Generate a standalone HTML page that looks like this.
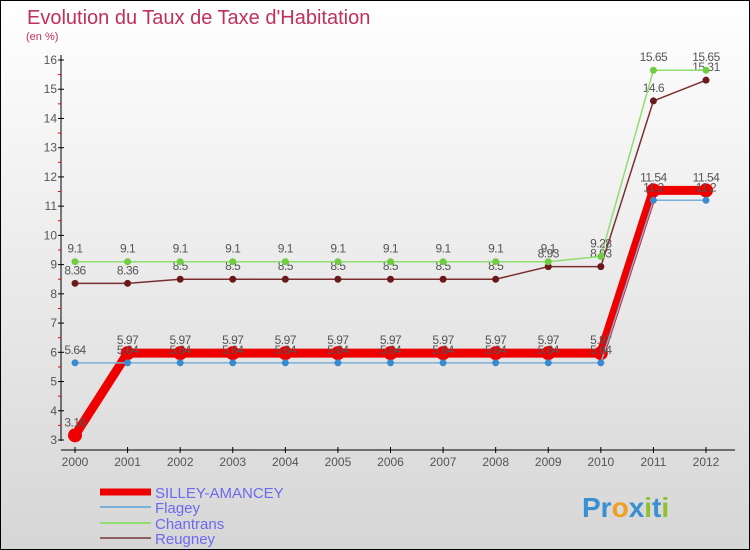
<!DOCTYPE html>
<html><head><meta charset="utf-8"><style>
body{margin:0;width:750px;height:550px;overflow:hidden;font-family:"Liberation Sans",sans-serif}
#c{position:absolute;left:0;top:0;width:748px;height:548px;border:1px solid #000;background:linear-gradient(#fff,#d6d6d6)}
</style></head><body>
<div id="c">
<svg id="s" width="750" height="550" style="position:absolute;left:-1px;top:-1px">
<text x="27" y="24" font-size="20" fill="#c0305a">Evolution du Taux de Taxe d'Habitation</text>
<text x="26" y="40" font-size="11" fill="#c0305a">(en %)</text>
<g id="axes"></g><g id="series"></g>
<g>
<line x1="100" y1="492" x2="151" y2="492" stroke="#e00" stroke-width="7"/>
<text x="155" y="498" font-size="15" fill="#6a6af0">SILLEY-AMANCEY</text>
<line x1="100" y1="507" x2="151" y2="507" stroke="#7ab0d8" stroke-width="2"/>
<text x="155" y="513" font-size="15" fill="#6a6af0">Flagey</text>
<line x1="100" y1="523" x2="151" y2="523" stroke="#90dd70" stroke-width="2"/>
<text x="155" y="529" font-size="15" fill="#6a6af0">Chantrans</text>
<line x1="100" y1="538" x2="151" y2="538" stroke="#906060" stroke-width="2"/>
<text x="155" y="544" font-size="15" fill="#6a6af0">Reugney</text>
</g>
<text x="582" y="517" font-size="28" font-weight="bold"><tspan fill="#3a8fd0">Pr</tspan><tspan fill="#f0a020">o</tspan><tspan fill="#3a8fd0">x</tspan><tspan fill="#90c030">i</tspan><tspan fill="#3a8fd0">t</tspan><tspan fill="#90c030">i</tspan></text>
</svg></div>
<script>
const years=[2000,2001,2002,2003,2004,2005,2006,2007,2008,2009,2010,2011,2012];
const silley=[3.16,5.97,5.97,5.97,5.97,5.97,5.97,5.97,5.97,5.97,5.97,11.54,11.54];
const flagey=[5.64,5.64,5.64,5.64,5.64,5.64,5.64,5.64,5.64,5.64,5.64,11.2,11.2];
const chantrans=[9.1,9.1,9.1,9.1,9.1,9.1,9.1,9.1,9.1,9.1,9.28,15.65,15.65];
const reugney=[8.36,8.36,8.5,8.5,8.5,8.5,8.5,8.5,8.5,8.93,8.93,14.6,15.31];
const yTicks=[3,4,5,6,7,8,9,10,11,12,13,14,15,16];
const NS="http://www.w3.org/2000/svg";
const X=i=>75+i*(706-75)/(years.length-1);
const Y=v=>440-(v-3)*(380/13);
function mk(p,t,a){const e=document.createElementNS(NS,t);for(const k in a)e.setAttribute(k,a[k]);p.appendChild(e);return e;}
const ax=document.getElementById('axes');
mk(ax,'line',{x1:61,y1:55,x2:61,y2:441,stroke:'#000'});
mk(ax,'line',{x1:61,y1:450,x2:735,y2:450,stroke:'#000'});
yTicks.forEach(v=>{const y=Y(v);
mk(ax,'line',{x1:58,y1:y,x2:64,y2:y,stroke:'#000'});
if(v<16)mk(ax,'line',{x1:58,y1:Y(v+0.5),x2:61,y2:Y(v+0.5),stroke:'#e00'});
const t=mk(ax,'text',{x:57,y:y+4,'font-size':12,fill:'#555','text-anchor':'end'});t.textContent=v;

});
years.forEach((yr,i)=>{const x=X(i);
mk(ax,'line',{x1:x,y1:447,x2:x,y2:453,stroke:'#000'});
const t=mk(ax,'text',{x:x,y:466,'font-size':12,fill:'#555','text-anchor':'middle'});t.textContent=yr;

});
const sg=document.getElementById('series');
function draw(vals,name,col,w,r,fill){
const g=mk(sg,'g',{});


mk(g,'polyline',{points:vals.map((v,i)=>X(i)+','+Y(v)).join(' '),fill:'none',stroke:col,'stroke-width':w});
vals.forEach((v,i)=>{const c=mk(g,'circle',{cx:X(i),cy:Y(v),r:r,fill:fill});


const t=mk(g,'text',{x:X(i),y:Y(v)-9,'font-size':12,fill:'#555','text-anchor':'middle','letter-spacing':'-0.5'});t.textContent=v;

});}
draw(reugney,'reugney','#7a3030',1.5,3.5,'#6a1a1a');
draw(chantrans,'chantrans','#90dd70',1.5,3.5,'#70cc40');
draw(silley,'silley-amancey','#e00',9,7,'#e00');
draw(flagey,'flagey','#7ab0d8',1.5,3.5,'#3a8ad0');
</script>
</body></html>
